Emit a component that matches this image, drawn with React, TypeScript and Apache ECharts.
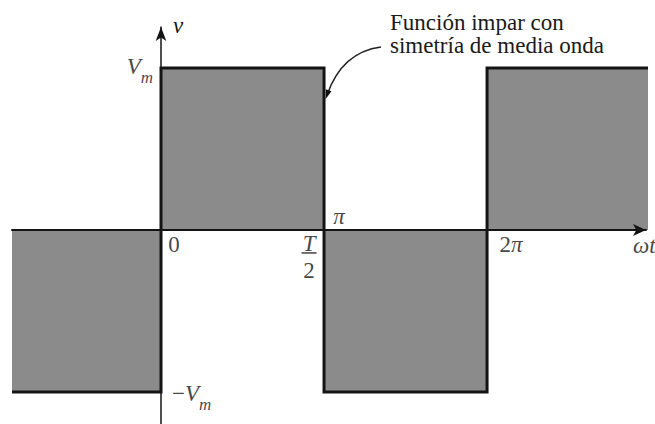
import React, { useEffect, useRef } from "react";
import * as echarts from "echarts";

// Square wave, x in units of π (ωt), y in units of Vm
const waveX = [-0.914, 0, 0, 1, 1, 2, 2, 3.03];
const waveY = [-1, -1, 1, 1, -1, -1, 1, 1];

// Tick marks on the ωt axis (units of π)
const xTickValues = [0, 1, 2];
const xTickTexts = ["0", "T/2", "2π"];
const piValue = 1;
const piText = "π";

// Levels on the v axis
const levelValues = [1, -1];
const levelTexts = ["V_m", "−V_m"];

const noteLines = ["Función impar con", "simetría de media onda"];
const xAxisName = "ωt";
const yAxisName = "v";

const X_MIN = -0.914;
const X_MAX = 2.975;
const Y_MIN = -1.198;
const Y_MAX = 1.253;

const FONT = "Liberation Serif";
const INK = "#141414";
const FILL = "#8b8b8b";

function toRich(t: string): string {
  if (t.includes("/")) {
    const [n, d] = t.split("/");
    return `{fn|${n}}\n{fd|${d}}`;
  }
  let out = "";
  const [main, sub] = t.split("_");
  for (const ch of main) {
    if (/[0-9−\-]/.test(ch)) out += `{u|${ch}}`;
    else out += `{i|${ch}}`;
  }
  if (sub) out += `{s|${sub}}`;
  return out;
}

const rich = {
  u: { fontFamily: FONT, fontSize: 23, lineHeight: 23, color: INK, verticalAlign: "top" },
  i: { fontFamily: FONT, fontSize: 23, lineHeight: 23, fontStyle: "italic", color: INK, verticalAlign: "top" },
  s: { fontFamily: FONT, fontSize: 17, lineHeight: 17, fontStyle: "italic", color: INK, verticalAlign: "top", padding: [14, 0, 0, 0] },
  fn: { fontFamily: FONT, fontSize: 23, lineHeight: 27, fontStyle: "italic", color: INK, align: "center" },
  fd: { fontFamily: FONT, fontSize: 23, lineHeight: 27, color: INK, align: "center" },
};

// label placement styles (pixel offsets from anchor)
const xTickOffsets = [[13, 15], [-15, 27], [24, 15]];
const piOffset = [15, -13];
const levelOffsets = [[-8, -1], [11, 2]];
const levelAligns = ["right", "left"];
const xNameOffset = [-13, 16];

function lab(value: number[], text: string, offset: number[], align = "center") {
  return {
    value,
    label: {
      show: true,
      position: "inside",
      align,
      verticalAlign: "middle",
      offset,
      formatter: toRich(text),
      rich,
    },
  };
}

export default function App() {
  const ref = useRef<HTMLDivElement>(null);
  useEffect(() => {
    if (!ref.current) return;
    const chart = echarts.init(ref.current, undefined, { renderer: "svg" });

    const labelData: any[] = [];
    xTickValues.forEach((v, k) => labelData.push(lab([v, 0], xTickTexts[k], xTickOffsets[k])));
    labelData.push(lab([piValue, 0], piText, piOffset));
    levelValues.forEach((v, k) => labelData.push(lab([0, v], levelTexts[k], levelOffsets[k], levelAligns[k])));
    labelData.push(lab([X_MAX, 0], xAxisName, xNameOffset, "left"));

    // fraction bar of T/2
    const barData = xTickTexts
      .map((t, k) => ({ t, v: xTickValues[k] }))
      .filter((o) => o.t.includes("/"))
      .map((o) => [o.v, 0]);

    chart.setOption({
      animation: false,
      backgroundColor: "#ffffff",
      title: {
        text: noteLines.join("\n"),
        left: 390,
        top: 11,
        padding: 0,
        textAlign: "left",
        textStyle: {
          fontFamily: FONT,
          fontSize: 23,
          fontWeight: "normal",
          lineHeight: 23,
          color: "#1a1a1a",
          align: "left",
        },
      },
      grid: { left: 12, right: 9, top: 27, bottom: 0, containLabel: false },
      xAxis: {
        type: "value",
        min: X_MIN,
        max: X_MAX,
        z: 5,
        axisLine: {
          onZero: true,
          symbol: ["none", "arrow"],
          symbolSize: [9, 13],
          lineStyle: { color: INK, width: 2 },
        },
        axisTick: { show: false },
        axisLabel: { show: false },
        splitLine: { show: false },
      },
      yAxis: {
        type: "value",
        min: Y_MIN,
        max: Y_MAX,
        z: 5,
        name: yAxisName,
        nameLocation: "end",
        nameGap: 2,
        nameTextStyle: {
          fontFamily: FONT,
          fontSize: 23,
          fontStyle: "italic",
          color: INK,
          align: "left",
          verticalAlign: "middle",
          padding: [0, 0, 0, 12],
        },
        axisLine: {
          onZero: true,
          symbol: ["none", "arrow"],
          symbolSize: [8, 14],
          lineStyle: { color: INK, width: 1.5 },
        },
        axisTick: { show: false },
        axisLabel: { show: false },
        splitLine: { show: false },
      },
      series: [
        {
          type: "line",
          data: waveX.map((x, k) => [x, waveY[k]]),
          symbol: "none",
          clip: false,
          z: 2,
          lineStyle: { color: INK, width: 3, join: "miter" },
          areaStyle: { color: FILL, opacity: 1 },
        },
        {
          type: "scatter",
          data: labelData,
          symbolSize: 1,
          clip: false,
          itemStyle: { color: "rgba(0,0,0,0)" },
          z: 6,
          silent: true,
        },
        {
          type: "scatter",
          data: barData,
          symbol: "rect",
          symbolSize: [15, 1.5],
          symbolOffset: [-15, 23],
          itemStyle: { color: INK },
          z: 6,
          silent: true,
        },
      ],
      graphic: [
        {
          type: "bezierCurve",
          z: 100,
          shape: { x1: 381, y1: 47, cpx1: 342, cpy1: 52, x2: 327, y2: 95 },
          style: { stroke: "#222", lineWidth: 1.5, fill: "none" },
        },
        {
          type: "polygon",
          z: 100,
          shape: { points: [[325.7, 99], [331.5, 91.3], [325.9, 89.3]] },
          style: { fill: "#111" },
        },
      ],
    });
    return () => chart.dispose();
  }, []);
  return (
    <div
      ref={ref}
      style={{ position: "absolute", left: 0, top: 0, width: 655, height: 424, background: "#fff" }}
    />
  );
}
